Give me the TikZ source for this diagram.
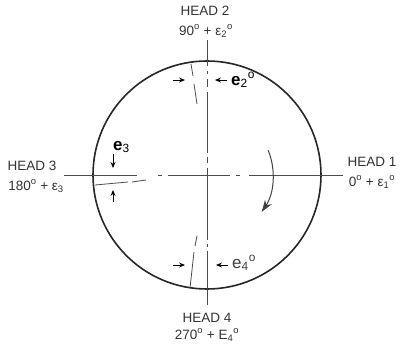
\documentclass[tikz,border=0pt]{standalone}
\usepackage{fontspec}
\setmainfont{Liberation Sans}
\usetikzlibrary{arrows.meta}
\begin{document}
\begin{tikzpicture}[x=1pt,y=-1pt,
  thin line/.style={draw=black!70, line width=0.8pt},
  rim/.style={draw=black!85, line width=1.6pt},
  gap/.style={-{Stealth[length=6pt,width=5pt]}, draw=black, line width=0.9pt},
  lbl/.style={text=black!80, font=\fontsize{13.5}{14}\selectfont, inner sep=0pt, align=center},
  err/.style={text=black, inner sep=0pt, font=\fontsize{17}{18}\selectfont}]
\useasboundingbox (0,0) rectangle (405,344);
\coordinate (c) at (207,175);
% circle
\draw[rim] (c) circle[radius=114];
% vertical centre line
\draw[thin line] (207,40) -- (207,66);
\draw[thin line] (207,71) -- (207,74);
\draw[thin line] (207,79) -- (207,87);
\draw[thin line] (207,92) -- (207,153);
\draw[thin line] (207,157) -- (207,163);
\draw[thin line] (207,168) -- (207,240);
\draw[thin line] (207,244) -- (207,247);
\draw[thin line] (207,251) -- (207,305);
% horizontal centre line
\draw[thin line] (64,175) -- (137,175);
\draw[thin line] (158,175) -- (162,175);
\draw[thin line] (168,175) -- (230,175);
\draw[thin line] (236,175) -- (240,175);
\draw[thin line] (249,175) -- (343,175);
% offset (error) lines
\draw[thin line] (95,185) -- (128,182);
\draw[thin line] (132,182) -- (146,180);
\draw[thin line] (191,64) -- (193,76);
\draw[thin line] (194,84) -- (197,104);
\draw[thin line] (190,288) -- (194,252);
\draw[thin line] (195,246) -- (197,236);
% gap arrows
\coordinate (a2l) at (173,80); \coordinate (a2lt) at (185,80);
\coordinate (a2r) at (227,80); \coordinate (a2rt) at (215,80);
\draw[gap] (a2l) -- (a2lt);
\draw[gap] (a2r) -- (a2rt);
\coordinate (a3u) at (113,154); \coordinate (a3ut) at (113,168);
\coordinate (a3d) at (113,202); \coordinate (a3dt) at (113,190);
\draw[gap] (a3u) -- (a3ut);
\draw[gap] (a3d) -- (a3dt);
\coordinate (a4l) at (173,265); \coordinate (a4lt) at (185,265);
\coordinate (a4r) at (228,265); \coordinate (a4rt) at (216,265);
\draw[gap] (a4l) -- (a4lt);
\draw[gap] (a4r) -- (a4rt);
% error labels
\node[err, anchor=west] (e2) at (231,80) {\textbf{e}\textsubscript{2}\textsuperscript{o}};
\node[err, anchor=west] (e3) at (113,147) {\textbf{e}\textsubscript{3}};
\node[err, anchor=west, text=black!75] (e4) at (232,263) {e\textsubscript{4}\textsuperscript{o}};
% rotation arrow
\draw[draw=black!75, line width=1pt, -{Stealth[length=12pt,width=8pt]}] (c) ++(-22:66) arc[start angle=-22, end angle=34, radius=66];
% head labels
\node[lbl] (h2) at (205,11) {HEAD 2};
\node[lbl] (h2v) at (206,31) {90\textsuperscript{o} + ε\textsubscript{2}\textsuperscript{o}};
\node[lbl] (h1) at (372,162) {HEAD 1};
\node[lbl] (h1v) at (372,182) {0\textsuperscript{o} + ε\textsubscript{1}\textsuperscript{o}};
\node[lbl] (h3) at (32,166) {HEAD 3};
\node[lbl] (h3v) at (36,186) {180\textsuperscript{o} + ε\textsubscript{3}};
\node[lbl] (h4) at (207,318) {HEAD 4};
\node[lbl] (h4v) at (207,335) {270\textsuperscript{o} + E\textsubscript{4}\textsuperscript{o}};
\end{tikzpicture}
\end{document}
